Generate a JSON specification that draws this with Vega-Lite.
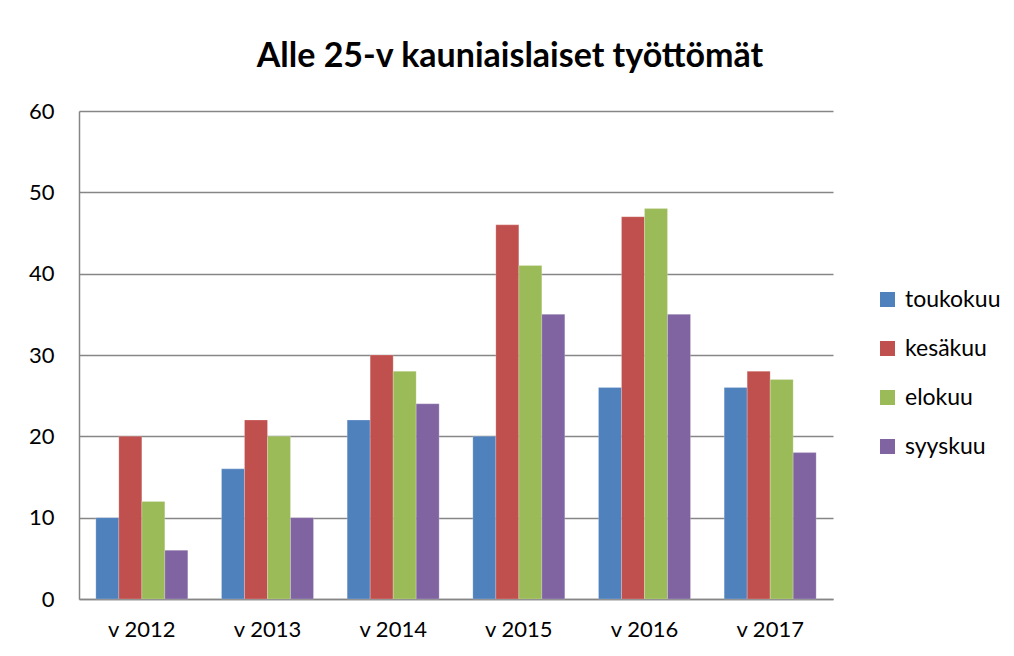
{
  "$schema": "https://vega.github.io/schema/vega-lite/v6.json",
  "autosize": {"type": "none"},
  "width": 754,
  "height": 488,
  "padding": {"left": 79, "top": 111, "right": 181, "bottom": 57},
  "background": "white",
  "title": {
    "text": "Alle 25-v kauniaislaiset työttömät",
    "font": "Lato",
    "fontSize": 34,
    "fontWeight": "bold",
    "color": "#000000",
    "anchor": "middle",
    "dx": 54,
    "offset": 26
  },
  "data": {
    "values": [
      {"vuosi": "v 2012", "kuukausi": "toukokuu", "arvo": 10},
      {"vuosi": "v 2012", "kuukausi": "kesäkuu", "arvo": 20},
      {"vuosi": "v 2012", "kuukausi": "elokuu", "arvo": 12},
      {"vuosi": "v 2012", "kuukausi": "syyskuu", "arvo": 6},
      {"vuosi": "v 2013", "kuukausi": "toukokuu", "arvo": 16},
      {"vuosi": "v 2013", "kuukausi": "kesäkuu", "arvo": 22},
      {"vuosi": "v 2013", "kuukausi": "elokuu", "arvo": 20},
      {"vuosi": "v 2013", "kuukausi": "syyskuu", "arvo": 10},
      {"vuosi": "v 2014", "kuukausi": "toukokuu", "arvo": 22},
      {"vuosi": "v 2014", "kuukausi": "kesäkuu", "arvo": 30},
      {"vuosi": "v 2014", "kuukausi": "elokuu", "arvo": 28},
      {"vuosi": "v 2014", "kuukausi": "syyskuu", "arvo": 24},
      {"vuosi": "v 2015", "kuukausi": "toukokuu", "arvo": 20},
      {"vuosi": "v 2015", "kuukausi": "kesäkuu", "arvo": 46},
      {"vuosi": "v 2015", "kuukausi": "elokuu", "arvo": 41},
      {"vuosi": "v 2015", "kuukausi": "syyskuu", "arvo": 35},
      {"vuosi": "v 2016", "kuukausi": "toukokuu", "arvo": 26},
      {"vuosi": "v 2016", "kuukausi": "kesäkuu", "arvo": 47},
      {"vuosi": "v 2016", "kuukausi": "elokuu", "arvo": 48},
      {"vuosi": "v 2016", "kuukausi": "syyskuu", "arvo": 35},
      {"vuosi": "v 2017", "kuukausi": "toukokuu", "arvo": 26},
      {"vuosi": "v 2017", "kuukausi": "kesäkuu", "arvo": 28},
      {"vuosi": "v 2017", "kuukausi": "elokuu", "arvo": 27},
      {"vuosi": "v 2017", "kuukausi": "syyskuu", "arvo": 18}
    ]
  },
  "mark": {"type": "bar", "stroke": "white", "strokeOpacity": 0.35, "strokeWidth": 0.6},
  "encoding": {
    "x": {
      "field": "vuosi",
      "type": "nominal",
      "sort": null,
      "scale": {"paddingInner": 0.268, "paddingOuter": 0.134},
      "axis": {
        "title": null,
        "labelAngle": 0,
        "labelFont": "Lato",
        "labelFontSize": 22,
        "labelColor": "#000000",
        "labelPadding": 20,
        "ticks": false,
        "domainColor": "#868686",
        "domainWidth": 1.5
      }
    },
    "xOffset": {
      "field": "kuukausi",
      "type": "nominal",
      "sort": ["toukokuu", "kesäkuu", "elokuu", "syyskuu"],
      "scale": {"paddingInner": 0, "paddingOuter": 0}
    },
    "y": {
      "field": "arvo",
      "type": "quantitative",
      "scale": {"domain": [0, 60]},
      "axis": {
        "title": null,
        "values": [0, 10, 20, 30, 40, 50, 60],
        "labelFont": "Lato",
        "labelFontSize": 22,
        "labelColor": "#000000",
        "labelPadding": 25,
        "ticks": false,
        "grid": true,
        "gridColor": "#868686",
        "gridWidth": 1.5,
        "domainColor": "#868686",
        "domainWidth": 1.5
      }
    },
    "color": {
      "field": "kuukausi",
      "type": "nominal",
      "sort": ["toukokuu", "kesäkuu", "elokuu", "syyskuu"],
      "scale": {
        "domain": ["toukokuu", "kesäkuu", "elokuu", "syyskuu"],
        "range": ["#4F81BD", "#C0504D", "#9BBB59", "#8064A2"]
      },
      "legend": {
        "title": null,
        "orient": "none",
        "legendX": 797,
        "legendY": 177,
        "symbolType": "square",
        "symbolSize": 225,
        "symbolStrokeWidth": 0,
        "labelFont": "Lato",
        "labelFontSize": 23,
        "labelColor": "#000000",
        "labelOffset": 6,
        "rowPadding": 25
      }
    }
  },
  "config": {
    "view": {"stroke": null}
  }
}
